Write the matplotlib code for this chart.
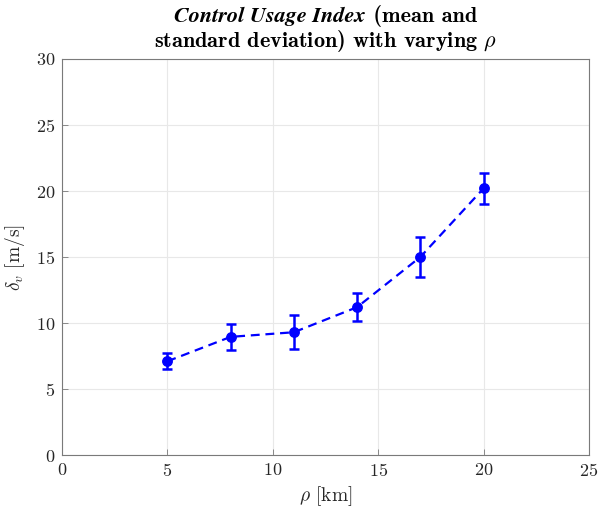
import matplotlib
matplotlib.use("Agg")
import matplotlib.pyplot as plt

plt.rcParams['font.family'] = 'cmr10'
plt.rcParams['mathtext.fontset'] = 'cm'
plt.rcParams['axes.formatter.use_mathtext'] = True

rho = [5, 8, 11, 14, 17, 20]
delta_mean = [7.1, 8.95, 9.3, 11.2, 15.0, 20.2]
delta_std = [0.6, 0.98, 1.3, 1.08, 1.5, 1.2]
xticks = [0, 5, 10, 15, 20, 25]
yticks = [0, 5, 10, 15, 20, 25, 30]

W, H = 603, 514
fig = plt.figure(figsize=(W / 100, H / 100), dpi=100)
ax = fig.add_axes([62 / W, 1 - 455 / H, (589 - 62) / W, (455 - 59) / H])

ax.errorbar(rho, delta_mean, yerr=delta_std, color='#0000ff', fmt='o',
            markersize=6.8, elinewidth=1.8, capsize=3.8, capthick=1.8, zorder=3)
ax.plot(rho, delta_mean, color='#0000ff', linestyle=(0, (4, 2.6)), linewidth=1.6, zorder=2)

ax.set_xlim(0, 25)
ax.set_ylim(0, 30)
ax.set_xticks(xticks)
ax.set_yticks(yticks)
ax.grid(True, color='#e8e8e8', linewidth=0.8)
ax.set_axisbelow(True)
for s in ax.spines.values():
    s.set_color('#7a7a7a')
    s.set_linewidth(0.8)
ax.tick_params(direction='in', length=4, width=0.6, color='#7a7a7a',
               labelsize=13, labelcolor='#262626', pad=5)

ax.set_xlabel(r'$\rho$ [km]', fontsize=14, color='#262626', labelpad=4)
ax.set_ylabel(r'$\delta_v$ [m/s]', fontsize=14, color='#262626', labelpad=6)

# Title
cx = (62 + 589) / 2 / W
t1 = fig.text(0, 1 - 22 / H, 'Control Usage Index', family='STIXGeneral',
              weight='bold', style='italic', fontsize=16, va='baseline', ha='left')
t2 = fig.text(0, 1 - 22 / H, ' (mean and', family='cmb10', fontsize=16,
              va='baseline', ha='left')
t3 = fig.text(cx, 1 - 47 / H, r'standard deviation) with varying $\rho$', family='cmb10',
              fontsize=16, va='baseline', ha='center')
fig.canvas.draw()
r = fig.canvas.get_renderer()
w1 = t1.get_window_extent(r).width
w2 = t2.get_window_extent(r).width
x0 = cx * W - (w1 + w2) / 2
t1.set_x(x0 / W)
t2.set_x((x0 + w1) / W)

fig.savefig('out.png', dpi=100)
